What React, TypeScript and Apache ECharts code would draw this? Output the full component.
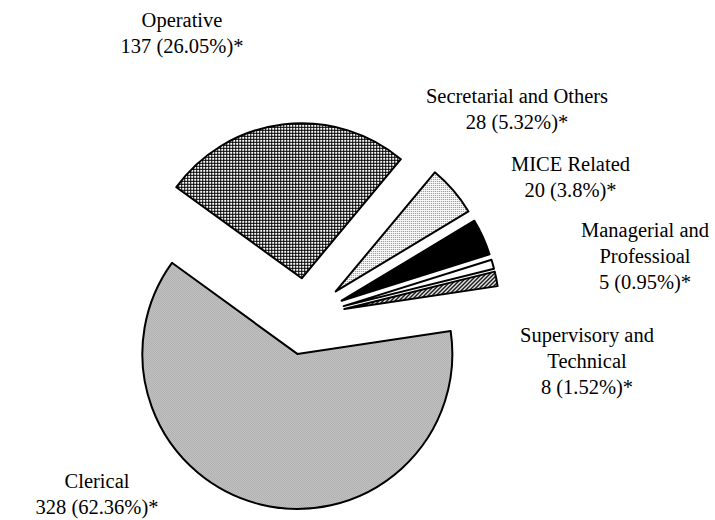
import React, { useEffect, useRef } from "react";
import * as echarts from "echarts";

// ---- data ----
const CATEGORIES = [
  "Operative",
  "Secretarial and Others",
  "MICE Related",
  "Managerial and Professioal",
  "Supervisory and Technical",
  "Clerical",
];
const LABEL_TEXT = [
  "Operative",
  "Secretarial and Others",
  "MICE Related",
  "Managerial and\nProfessioal",
  "Supervisory and\nTechnical",
  "Clerical",
];
const VALUES = [137, 28, 20, 5, 8, 328];

// label block centres (layout, not data)
const LABEL_POS: [number, number][] = [
  [182, 32.5],
  [517, 108.5],
  [570.5, 176.5],
  [645, 256],
  [587, 361],
  [97, 493.5],
];

// percentages with 2 decimals, largest-remainder so they sum to 100
function percents(vals: number[], precision = 2): number[] {
  const sum = vals.reduce((a, b) => a + b, 0);
  const digits = Math.pow(10, precision);
  const target = 100 * digits;
  const votes = vals.map((v) => (v / sum) * target);
  const seats = votes.map((v) => Math.floor(v));
  const rem = votes.map((v, i) => v - seats[i]);
  let left = target - seats.reduce((a, b) => a + b, 0);
  while (left > 0) {
    let best = 0;
    for (let i = 1; i < rem.length; i++) if (rem[i] > rem[best]) best = i;
    seats[best]++;
    rem[best] = -1;
    left--;
  }
  return seats.map((s) => s / digits);
}

function tile(size: number, fill: (x: number, y: number) => string) {
  const c = document.createElement("canvas");
  c.width = size;
  c.height = size;
  const ctx = c.getContext("2d")!;
  for (let y = 0; y < size; y++) {
    for (let x = 0; x < size; x++) {
      ctx.fillStyle = fill(x, y);
      ctx.fillRect(x, y, 1, 1);
    }
  }
  return { image: c, repeat: "repeat", imageWidth: size, imageHeight: size } as any;
}

export default function App() {
  const ref = useRef<HTMLDivElement>(null);
  useEffect(() => {
    if (!ref.current) return;
    const chart = echarts.init(ref.current, undefined, { renderer: "svg" });

    const fills = [
      // Operative: dense grid
      tile(3, (x, y) => (x === 0 || y === 0 ? "#000000" : "#ffffff")),
      // Secretarial: light dots
      tile(2, (x, y) => (x === 0 && y === 0 ? "#7a7a7a" : "#ffffff")),
      // MICE: solid black
      "#000000",
      // Managerial: white
      "#ffffff",
      // Supervisory: diagonal hatch
      tile(4, (x, y) => ((x + y) % 4 === 0 || (x + y) % 4 === 1 ? "#000000" : "#ffffff")),
      // Clerical: grey checker
      tile(2, (x, y) => ((x + y) % 2 === 0 ? "#808080" : "#f2f2f2")),
    ];

    const font = "'Liberation Serif', 'Times New Roman', serif";
    const pct = percents(VALUES, 2);

    chart.setOption({
      animation: false,
      backgroundColor: "#ffffff",
      graphic: CATEGORIES.map((_, i) => ({
        type: "text",
        x: LABEL_POS[i][0],
        y: LABEL_POS[i][1],
        silent: true,
        style: {
          text: `${LABEL_TEXT[i]}\n${VALUES[i]} (${pct[i]}%)*`,
          fill: "#000000",
          fontFamily: font,
          fontSize: 20.5,
          lineHeight: 26,
          align: "center",
          verticalAlign: "middle",
          textAlign: "center",
          textVerticalAlign: "middle",
        },
      })),
      series: [
        {
          type: "pie",
          center: [306.5, 316.5],
          radius: [0, 155],
          startAngle: 144,
          clockwise: true,
          selectedMode: "multiple",
          selectedOffset: 38.5,
          emphasis: { disabled: true },
          itemStyle: { borderColor: "#000000", borderWidth: 2 },
          label: { show: false },
          labelLine: { show: false },
          data: CATEGORIES.map((name, i) => ({
            name,
            value: VALUES[i],
            selected: true,
            itemStyle: { color: fills[i] },
            select: { itemStyle: { color: fills[i], borderColor: "#000000", borderWidth: 2 } },
          })),
        },
      ],
    });
    return () => chart.dispose();
  }, []);
  return (
    <div
      ref={ref}
      style={{ position: "absolute", left: 0, top: 0, width: 715, height: 520 }}
    />
  );
}
